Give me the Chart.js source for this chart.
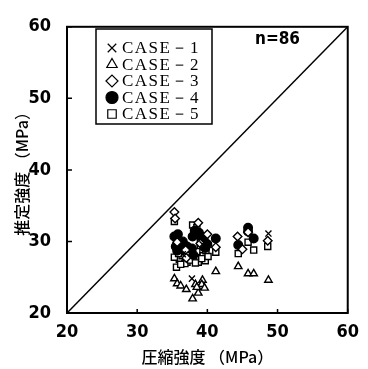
<!DOCTYPE html>
<html>
<head>
<meta charset="utf-8">
<script src="https://cdn.jsdelivr.net/npm/chart.js@4.4.0/dist/chart.umd.min.js"></script>
<style>
  html, body { margin: 0; padding: 0; background: #fff; }
  #wrap { width: 368px; height: 369px; }
</style>
</head>
<body>
<div id="wrap"><canvas id="myChart" width="368" height="369"></canvas></div>
<script>
  // valores (圧縮強度 x, 推定強度 y), em MPa
  const case1 = [[37.8, 24.8], [48.7, 31.1], [39.3, 29.6], [36.5, 28.2]];
  const case2 = [[35.3, 24.8], [35.7, 24.1], [36.2, 23.8], [37.0, 23.3], [38.3, 24.0], [39.3, 24.6],
    [39.2, 24.0], [39.6, 23.5], [38.7, 22.8], [37.9, 22.0], [41.2, 25.8], [44.4, 26.5],
    [45.8, 25.5], [46.6, 25.5], [48.7, 24.6], [38.5, 23.6]];
  const case3 = [[35.3, 34.1], [35.4, 33.2], [38.7, 32.6], [35.7, 29.9], [44.3, 30.7], [45.8, 31.3],
    [48.6, 30.1], [41.2, 29.2], [36.9, 28.8], [37.0, 27.7], [39.0, 29.7], [40.0, 31.0], [45.0, 28.9]];
  const case4 = [[35.3, 30.7], [35.5, 29.3], [36.8, 29.4], [37.9, 30.7], [38.2, 31.5], [39.0, 30.8],
    [39.4, 30.5], [41.2, 30.4], [45.8, 31.9], [46.6, 30.4], [44.4, 29.5], [37.1, 29.3],
    [38.0, 28.1], [35.7, 28.7], [37.8, 29.0], [39.5, 30.2], [36.5, 30.0], [40.0, 29.6],
    [38.8, 31.2], [35.8, 31.0], [45.8, 31.4], [39.7, 29.1]];
  const case5 = [[35.3, 32.8], [37.9, 32.3], [38.5, 31.9], [39.0, 29.9], [39.0, 29.3], [44.4, 28.3],
    [45.8, 29.9], [46.6, 28.8], [48.6, 29.3], [41.2, 28.5], [36.0, 27.5], [37.1, 27.1],
    [38.7, 27.1], [39.7, 27.3], [35.6, 26.4], [35.3, 27.8], [37.3, 28.5], [38.5, 28.6],
    [36.4, 28.0], [39.4, 28.0], [35.8, 29.0], [38.0, 27.8], [36.8, 26.9], [39.8, 28.7],
    [37.6, 27.4], [38.3, 27.0], [39.2, 27.6], [35.9, 28.3], [40.1, 27.9], [36.2, 26.8],
    [37.5, 28.9]];
  const caseNames = ['CASE－1', 'CASE－2', 'CASE－3', 'CASE－4', 'CASE－5'];
  const tickValues = [20, 30, 40, 50, 60];
  const nText = 'n=86';

  const toXY = arr => arr.map(p => ({ x: p[0], y: p[1] }));

  const estilos = [
    { pointStyle: 'crossRot', fill: false },
    { pointStyle: 'triangle', fill: false },
    { pointStyle: 'rectRot', fill: false },
    { pointStyle: 'circle', fill: true },
    { pointStyle: 'rect', fill: false }
  ];
  const todas = [case1, case2, case3, case4, case5];

  const datasets = todas.map((d, i) => ({
    type: 'scatter',
    label: caseNames[i],
    data: toXY(d),
    pointStyle: estilos[i].pointStyle,
    pointRadius: 4.3,
    borderColor: '#000',
    backgroundColor: estilos[i].fill ? '#000' : '#fff',
    borderWidth: 1.4
  }));

  // linha 1:1
  datasets.push({
    type: 'line',
    label: 'diag',
    data: [{ x: 20, y: 20 }, { x: 60, y: 60 }],
    borderColor: '#000',
    borderWidth: 1.5,
    pointRadius: 0,
    fill: false
  });

  // moldura, ticks para dentro, legenda e texto n=86
  const molduraPlugin = {
    id: 'moldura',
    afterDatasetsDraw(chart) {
      const { ctx, chartArea: a, scales } = chart;
      ctx.save();
      ctx.strokeStyle = '#000';
      ctx.lineWidth = 2;
      ctx.strokeRect(a.left, a.top, a.right - a.left, a.bottom - a.top);
      ctx.lineWidth = 1.5;
      tickValues.forEach(v => {
        const px = scales.x.getPixelForValue(v);
        const py = scales.y.getPixelForValue(v);
        ctx.beginPath();
        ctx.moveTo(px, a.bottom); ctx.lineTo(px, a.bottom - 4);
        ctx.moveTo(a.left, py); ctx.lineTo(a.left + 5, py);
        ctx.stroke();
      });

      // legenda
      const lx = 96, ly = 29, lw = 116, lh = 95;
      ctx.fillStyle = '#fff';
      ctx.fillRect(lx, ly, lw, lh);
      ctx.lineWidth = 1.5;
      ctx.strokeRect(lx, ly, lw, lh);
      ctx.font = '17px "Liberation Serif", serif';
      ctx.letterSpacing = '1.5px';
      ctx.textBaseline = 'middle';
      chart.data.datasets.slice(0, 5).forEach((ds, i) => {
        const y = 48 + i * 16.5;
        ctx.strokeStyle = '#000';
        ctx.fillStyle = ds.backgroundColor;
        ctx.lineWidth = 1.2;
        Chart.helpers.drawPoint(ctx, { pointStyle: ds.pointStyle, radius: 6, rotation: 0, borderWidth: 1.2 }, 112, y);
        ctx.fillStyle = '#000';
        ctx.fillText(ds.label, 122, y + 1);
      });
      ctx.letterSpacing = '0px';

      ctx.font = 'bold 17px "DejaVu Sans Condensed", "Liberation Sans", sans-serif';
      ctx.textAlign = 'left';
      ctx.fillText(nText, 255, 40);
      ctx.restore();
    }
  };

  const fonteTick = { family: '"Liberation Sans Narrow", "DejaVu Sans Condensed", sans-serif', size: 18, weight: 'bold' };
  const fonteTitulo = { family: '"Noto Sans CJK JP", sans-serif', size: 16, weight: '500' };

  const config = {
    data: { datasets },
    options: {
      responsive: false,
      animation: false,
      layout: { padding: { left: 0, right: 6, top: 13, bottom: 0 } },
      plugins: { legend: { display: false }, tooltip: { enabled: false } },
      scales: {
        x: {
          type: 'linear', min: 20, max: 60,
          border: { display: false },
          grid: { display: false, drawTicks: false },
          ticks: { stepSize: 10, color: '#000', font: fonteTick, padding: 9 },
          title: { display: true, text: '圧縮強度 （MPa）', color: '#000', font: fonteTitulo, padding: { top: 0, bottom: 2 } },
          afterFit(scale) { scale.height = 56; }
        },
        y: {
          type: 'linear', min: 20, max: 60,
          border: { display: false },
          grid: { display: false, drawTicks: false },
          ticks: { stepSize: 10, color: '#000', font: fonteTick, padding: 16 },
          title: { display: true, text: '推定強度 （MPa）', color: '#000', font: fonteTitulo, padding: { top: 12, bottom: 0 } },
          afterFit(scale) { scale.width = 67; }
        }
      }
    },
    plugins: [molduraPlugin]
  };

  window.myChart = new Chart(document.getElementById('myChart').getContext('2d'), config);
</script>
</body>
</html>
